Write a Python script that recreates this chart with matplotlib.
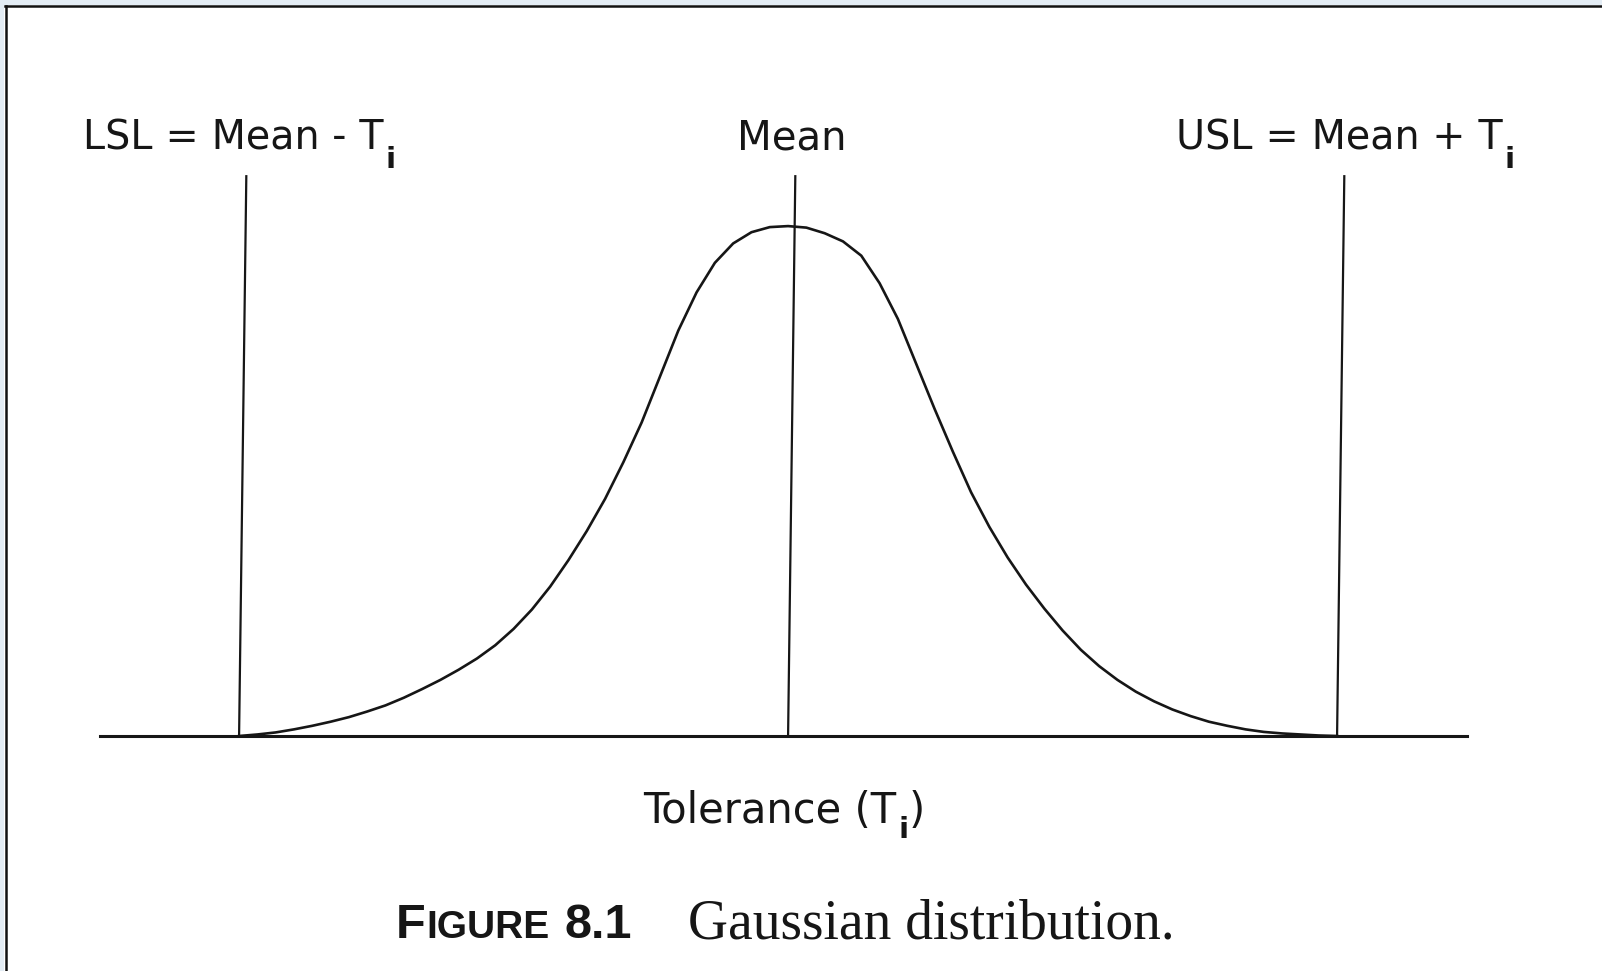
import matplotlib
matplotlib.use("Agg")
import numpy as np
import matplotlib.pyplot as plt
import matplotlib.transforms as mtransforms
from matplotlib.patches import Rectangle
from matplotlib.lines import Line2D

plt.rcParams['font.family'] = ['DejaVu Sans']

# spec limits and mean, in sigma units (T_i = 3 sigma)
spec_x = [-3.0, 0.0, 3.0]

# bell curve, height relative to the peak
curve_x = [-3.0, -2.9, -2.8, -2.7, -2.6, -2.5, -2.4, -2.3, -2.2, -2.1,
           -2.0, -1.9, -1.8, -1.7, -1.6, -1.5, -1.4, -1.3, -1.2, -1.1,
           -1.0, -0.9, -0.8, -0.7, -0.6, -0.5, -0.4, -0.3, -0.2, -0.1,
           0.0, 0.1, 0.2, 0.3, 0.4, 0.5, 0.6, 0.7, 0.8, 0.9,
           1.0, 1.1, 1.2, 1.3, 1.4, 1.5, 1.6, 1.7, 1.8, 1.9,
           2.0, 2.1, 2.2, 2.3, 2.4, 2.5, 2.6, 2.7, 2.8, 2.9, 3.0]
curve_y = [0.000, 0.003, 0.007, 0.013, 0.020, 0.028, 0.037, 0.048, 0.060, 0.075,
           0.092, 0.110, 0.130, 0.152, 0.178, 0.210, 0.248, 0.293, 0.345, 0.402,
           0.465, 0.537, 0.615, 0.705, 0.795, 0.870, 0.928, 0.966, 0.988, 0.998,
           1.000, 0.997, 0.986, 0.970, 0.942, 0.888, 0.818, 0.730, 0.642, 0.558,
           0.478, 0.410, 0.350, 0.297, 0.250, 0.207, 0.169, 0.137, 0.110, 0.087,
           0.068, 0.052, 0.039, 0.028, 0.020, 0.013, 0.008, 0.005, 0.003, 0.001, 0.000]

line_top = 1.1
ink = '#161616'
sp = '\u2004'  # slightly wider word spacing of the label face

W, H = 1602, 971
fig = plt.figure(figsize=(W / 100, H / 100), dpi=100)
fig.patch.set_facecolor('white')

ax = fig.add_axes([100 / W, 235 / H, 1367 / W, 566 / H])
ax.set_xlim(-3.76, 3.71)
ax.set_ylim(0, 1.11)
ax.axis('off')

ax.axhline(0, color=ink, lw=2.2, clip_on=False)
# the printed verticals lean a little to the right
lean = mtransforms.Affine2D().skew(np.arctan(0.036), 0) + ax.transData
ax.vlines(spec_x, 0, line_top, color=ink, lw=1.6, transform=lean)
ax.plot(curve_x, curve_y, color=ink, lw=1.9, solid_joinstyle='round')

renderer = fig.canvas.get_renderer()


def sub_label(x, y, head, tail, size, sub_size, drop, ha='left'):
    """text with a dropped 'i' subscript; x, y in pixels, y = baseline from top"""
    parts = [fig.text(0, 0, head, fontsize=size, color=ink, va='baseline'),
             fig.text(0, 0, 'i', fontsize=sub_size, fontweight='bold', color=ink,
                      va='baseline')]
    if tail:
        parts.append(fig.text(0, 0, tail, fontsize=size, color=ink, va='baseline'))
    widths = [p.get_window_extent(renderer).width for p in parts]
    widths[0] += 2
    start = x - sum(widths) * {'left': 0, 'center': 0.5, 'right': 1}[ha]
    cur = start
    for k, (p, w) in enumerate(zip(parts, widths)):
        yy = y + drop if k == 1 else y
        p.set_position((cur / W, 1 - yy / H))
        cur += w


sub_label(83, 150, f'LSL{sp}={sp}Mean -{sp}T', '', 28.5, 21, 18)
fig.text(792 / W, 1 - 150 / H, 'Mean', fontsize=29, color=ink, ha='center', va='baseline')
sub_label(1515, 150, f'USL{sp}={sp}Mean +{sp}T', '', 28.5, 21, 18, ha='right')

sub_label(784, 823, 'Tolerance (T', ')', 30, 21, 15, ha='center')

# caption: small caps "FIGURE" then serif title
cy = 1 - 938 / H
cap_font = 'Liberation Sans'
fig.text(396 / W, cy, 'F', fontsize=35, fontweight='bold', color=ink, va='baseline',
         family=cap_font)
fig.text(426 / W, cy, 'IGURE', fontsize=28, fontweight='bold', color=ink, va='baseline',
         family=cap_font)
fig.text(564 / W, cy, '8.1', fontsize=35, fontweight='bold', color=ink, va='baseline',
         family=cap_font)
fig.text(688 / W, cy, 'Gaussian distribution.', fontsize=40, color=ink, va='baseline',
         family='Liberation Serif')

# page frame
fig.add_artist(Rectangle((0, 1 - 5 / H), 1, 5 / H, transform=fig.transFigure,
                         color='#e3ecf4', lw=0))
fig.add_artist(Rectangle((0, 0), 4 / W, 1, transform=fig.transFigure,
                         color='#e3ecf4', lw=0))
fig.add_artist(Line2D([5 / W, 1], [1 - 6 / H, 1 - 6 / H], transform=fig.transFigure,
                      color='#111111', lw=1.8))
fig.add_artist(Line2D([5.5 / W, 5.5 / W], [0, 1 - 6 / H], transform=fig.transFigure,
                      color='#111111', lw=1.8))

fig.savefig('out.png', dpi=100)
